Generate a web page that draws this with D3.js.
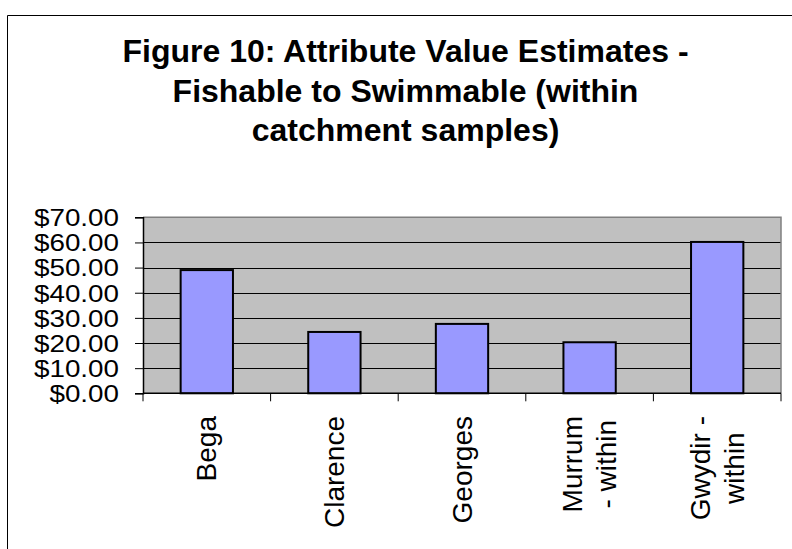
<!DOCTYPE html>
<html>
<head>
<meta charset="utf-8">
<script src="https://cdn.jsdelivr.net/npm/d3@7"></script>
<style>
  html, body { margin: 0; padding: 0; background: #ffffff; }
  svg { display: block; }
  text { font-family: Arial, "Liberation Sans", sans-serif; }
</style>
</head>
<body>
<svg id="chart" width="792" height="549"></svg>
<script>
// ---- data ----
const titleLines = ["Figure 10: Attribute Value Estimates -", "Fishable to Swimmable (within", "catchment samples)"];
const categories = ["Bega", "Clarence", "Georges", "Murrum - within", "Gwydir - within"];
const categoryLabelLines = [["Bega"], ["Clarence"], ["Georges"], ["Murrum", "- within"], ["Gwydir -", "within"]];
const values = [49.0, 24.4, 27.6, 20.3, 60.2];
const yTicks = [0, 10, 20, 30, 40, 50, 60, 70];

// ---- layout ----
const svg = d3.select("#chart");
const plot = { left: 143, right: 781, top: 217.3, bottom: 393.3 };

// outer chart border (left and top visible)
svg.append("path")
  .attr("d", "M7.5,549 L7.5,15.5 L792,15.5")
  .attr("fill", "none").attr("stroke", "#000").attr("stroke-width", 1);

// title
const title = svg.append("g").attr("class", "title");
const titleBaselines = [62, 102, 141];
titleLines.forEach((t, i) => {
  title.append("text")
    .attr("x", 405.5).attr("y", titleBaselines[i])
    .attr("text-anchor", "middle")
    .attr("font-size", 32).attr("font-weight", "bold")
    .attr("fill", "#000")
    .text(t);
});

const x = d3.scaleBand().domain(categories).range([plot.left, plot.right])
  .paddingInner(0.59).paddingOuter(0.295);
const y = d3.scaleLinear().domain([0, 70]).range([plot.bottom, plot.top]);

// plot background
svg.append("rect")
  .attr("x", plot.left).attr("y", plot.top)
  .attr("width", plot.right - plot.left).attr("height", plot.bottom - plot.top)
  .attr("fill", "#c0c0c0");

// gridlines
svg.append("g").selectAll("line").data(yTicks.filter(d => d > 0 && d < 70)).join("line")
  .attr("x1", plot.left).attr("x2", plot.right)
  .attr("y1", d => Math.round(y(d)) + 0.5).attr("y2", d => Math.round(y(d)) + 0.5)
  .attr("stroke", "#000").attr("stroke-width", 1);

// plot border top & right (gray)
svg.append("path")
  .attr("d", `M${plot.left},${plot.top} L${plot.right},${plot.top} L${plot.right},${plot.bottom}`)
  .attr("fill", "none").attr("stroke", "#808080").attr("stroke-width", 1.5);

// bars
svg.append("g").selectAll("rect").data(values).join("rect")
  .attr("x", (d, i) => x(categories[i]))
  .attr("width", x.bandwidth())
  .attr("y", d => y(d))
  .attr("height", d => y(0) - y(d))
  .attr("fill", "#9999ff")
  .attr("stroke", "#000").attr("stroke-width", 2);

// y axis
const yAxis = d3.axisLeft(y).tickValues(yTicks).tickSize(8).tickPadding(16)
  .tickFormat(d => "$" + d3.format(".2f")(d));
const yg = svg.append("g").attr("transform", `translate(${plot.left},0)`).call(yAxis);
yg.select(".domain").attr("stroke", "#000").attr("stroke-width", 1.5);
yg.selectAll(".tick line").attr("stroke", "#000");
yg.selectAll(".tick text")
  .attr("font-size", 24).attr("fill", "#000")
  .attr("font-family", "Arial, 'Liberation Sans', sans-serif")
  .attr("dy", "0.35em")
  .each(function () {
    const w = this.getComputedTextLength();
    d3.select(this).attr("textLength", w * 1.158).attr("lengthAdjust", "spacingAndGlyphs");
  });

// x axis (ticks at category boundaries)
const boundaries = d3.range(categories.length + 1).map(i => plot.left + i * x.step());
const xg = svg.append("g");
xg.append("line")
  .attr("x1", plot.left).attr("x2", plot.right)
  .attr("y1", plot.bottom).attr("y2", plot.bottom)
  .attr("stroke", "#000").attr("stroke-width", 1.5);
xg.selectAll("line.tk").data(boundaries).join("line").attr("class", "tk")
  .attr("x1", d => d).attr("x2", d => d)
  .attr("y1", plot.bottom).attr("y2", plot.bottom + 8)
  .attr("stroke", "#000").attr("stroke-width", 1);

// category labels, rotated
const labelTop = 416;
const lineGap = 34;
const fs = 28;
categoryLabelLines.forEach((lines, i) => {
  const cx = x(categories[i]) + x.bandwidth() / 2;
  const g = svg.append("g");
  const texts = lines.map(t => g.append("text")
    .attr("font-size", fs).attr("fill", "#000").attr("text-anchor", "middle").text(t));
  const maxLen = d3.max(texts, t => t.node().getComputedTextLength());
  const midY = labelTop + maxLen / 2;
  const n = lines.length;
  texts.forEach((t, k) => {
    const bx = cx + 9.5 + (k - (n - 1) / 2) * lineGap;
    t.attr("transform", `translate(${bx},${midY}) rotate(-90)`);
  });
});
</script>
</body>
</html>
